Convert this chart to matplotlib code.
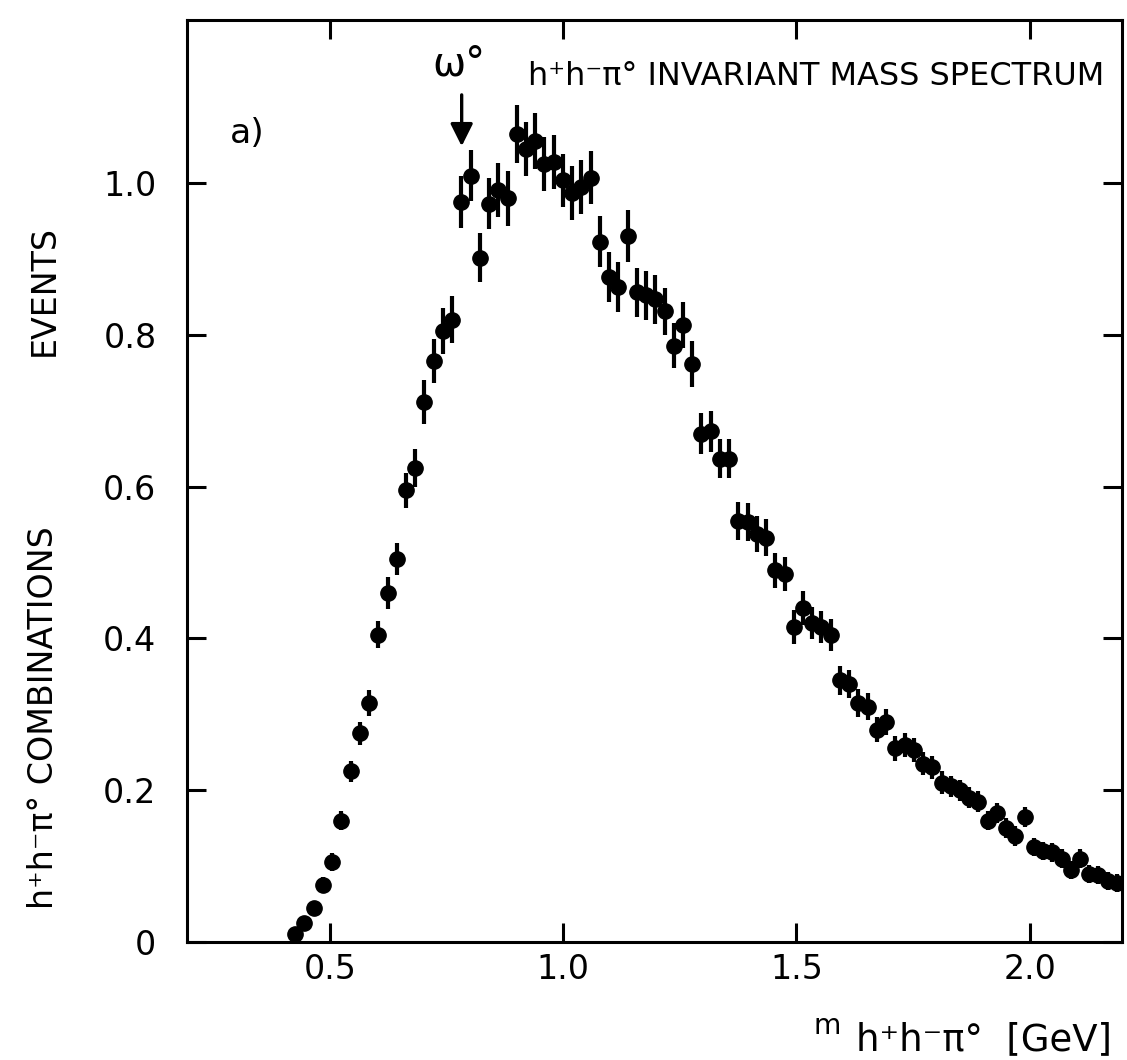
import numpy as np
import matplotlib
matplotlib.use("Agg")
import matplotlib.pyplot as plt
import matplotlib.font_manager as fm

# h+h-pi0 invariant mass spectrum
events = [0.010, 0.025, 0.045, 0.075, 0.105, 0.160, 0.225, 0.275, 0.315, 0.405,
          0.460, 0.505, 0.595, 0.625, 0.712, 0.765, 0.805, 0.820, 0.975, 1.010,
          0.902, 0.973, 0.991, 0.980, 1.065, 1.045, 1.055, 1.025, 1.028, 1.004,
          0.987, 0.995, 1.007, 0.923, 0.876, 0.863, 0.930, 0.856, 0.852, 0.847,
          0.831, 0.786, 0.813, 0.762, 0.670, 0.673, 0.637, 0.637, 0.555, 0.553,
          0.538, 0.533, 0.490, 0.485, 0.415, 0.440, 0.420, 0.415, 0.405, 0.345,
          0.340, 0.315, 0.310, 0.280, 0.290, 0.255, 0.260, 0.253, 0.235, 0.230,
          0.210, 0.205, 0.200, 0.190, 0.185, 0.160, 0.170, 0.150, 0.140, 0.165,
          0.125, 0.120, 0.118, 0.110, 0.095, 0.110, 0.090, 0.088, 0.080, 0.078]

errors = [0.008, 0.008, 0.009, 0.010, 0.012, 0.013, 0.014, 0.015, 0.017, 0.018,
          0.021, 0.021, 0.023, 0.025, 0.029, 0.029, 0.030, 0.031, 0.034, 0.034,
          0.032, 0.034, 0.036, 0.036, 0.038, 0.036, 0.037, 0.036, 0.036, 0.035,
          0.035, 0.035, 0.035, 0.034, 0.033, 0.033, 0.034, 0.032, 0.032, 0.032,
          0.031, 0.030, 0.030, 0.030, 0.027, 0.027, 0.026, 0.026, 0.025, 0.025,
          0.024, 0.024, 0.023, 0.023, 0.022, 0.022, 0.021, 0.021, 0.021, 0.019,
          0.019, 0.018, 0.018, 0.017, 0.017, 0.016, 0.016, 0.016, 0.015, 0.015,
          0.015, 0.014, 0.014, 0.014, 0.014, 0.013, 0.013, 0.013, 0.013, 0.013,
          0.012, 0.012, 0.012, 0.012, 0.012, 0.012, 0.012, 0.012, 0.012, 0.012]

# bins of ~20 MeV starting at 0.425 GeV
mass = 0.425 + 0.0198 * np.arange(len(events))

x_ticks = [0.5, 1.0, 1.5, 2.0]
x_tick_labels = ["0.5", "1.0", "1.5", "2.0"]
y_ticks = [0, 0.2, 0.4, 0.6, 0.8, 1.0]
y_tick_labels = ["0", "0.2", "0.4", "0.6", "0.8", "1.0"]
omega_mass = 0.782

# narrow plotter-like font if there is one, else DejaVu a bit smaller
avail = {f.name for f in fm.fontManager.ttflist}
if "Liberation Sans Narrow" in avail:
    narrow, k = "Liberation Sans Narrow", 1.1
else:
    narrow, k = "DejaVu Sans", 0.92

W, H = 1127, 1060
fig = plt.figure(figsize=(W / 100, H / 100), dpi=100)
ax = fig.add_axes([187 / W, 1 - 942 / H, (1122 - 187) / W, (942 - 20) / H])

ax.errorbar(mass, events, yerr=errors, fmt="o", color="black", ms=11,
            elinewidth=3, capsize=0)

ax.set_xlim(0.193, 2.198)
ax.set_ylim(0, 1.215)
ax.set_xticks(x_ticks)
ax.set_xticklabels(x_tick_labels, fontsize=26 * k, family=narrow)
ax.set_yticks(y_ticks)
ax.set_yticklabels(y_tick_labels, fontsize=24, family="DejaVu Sans")
ax.tick_params(direction="in", length=14, width=2.2, top=True, right=True)
ax.tick_params(axis="x", pad=8)
ax.tick_params(axis="y", pad=22)
for s in ax.spines.values():
    s.set_linewidth(2.2)

# omega arrow
ax.annotate("", xy=(omega_mass, 1.045), xytext=(omega_mass, 1.12),
            arrowprops=dict(arrowstyle="-|>", color="black", lw=2.4, mutation_scale=34))
ax.text(omega_mass - 0.005, 1.13, "ω°", fontsize=31 * k, family=narrow, ha="center", va="bottom")
ax.text(0.285, 1.065, "a)", fontsize=27 * k, family=narrow, ha="left", va="center")
ax.text(2.16, 1.14, "h⁺h⁻π° INVARIANT MASS SPECTRUM", fontsize=25 * k, family=narrow,
        ha="right", va="center")

# axis labels
fig.text(44 / W, 1 - 290 / H, "EVENTS", rotation=90, fontsize=26 * k, family=narrow,
         ha="center", va="center")
fig.text(44 / W, 1 - 718 / H, "h⁺h⁻π° COMBINATIONS", rotation=90, fontsize=26 * k,
         family=narrow, ha="center", va="center")
fig.text(827 / W, 1 - 1026 / H, "m", fontsize=22 * k, family=narrow, ha="center", va="center")
fig.text(1112 / W, 1 - 1040 / H, "h⁺h⁻π°  [GeV]", fontsize=29 * k, family=narrow,
         ha="right", va="center")

fig.savefig("out.png", dpi=100, facecolor="white")
